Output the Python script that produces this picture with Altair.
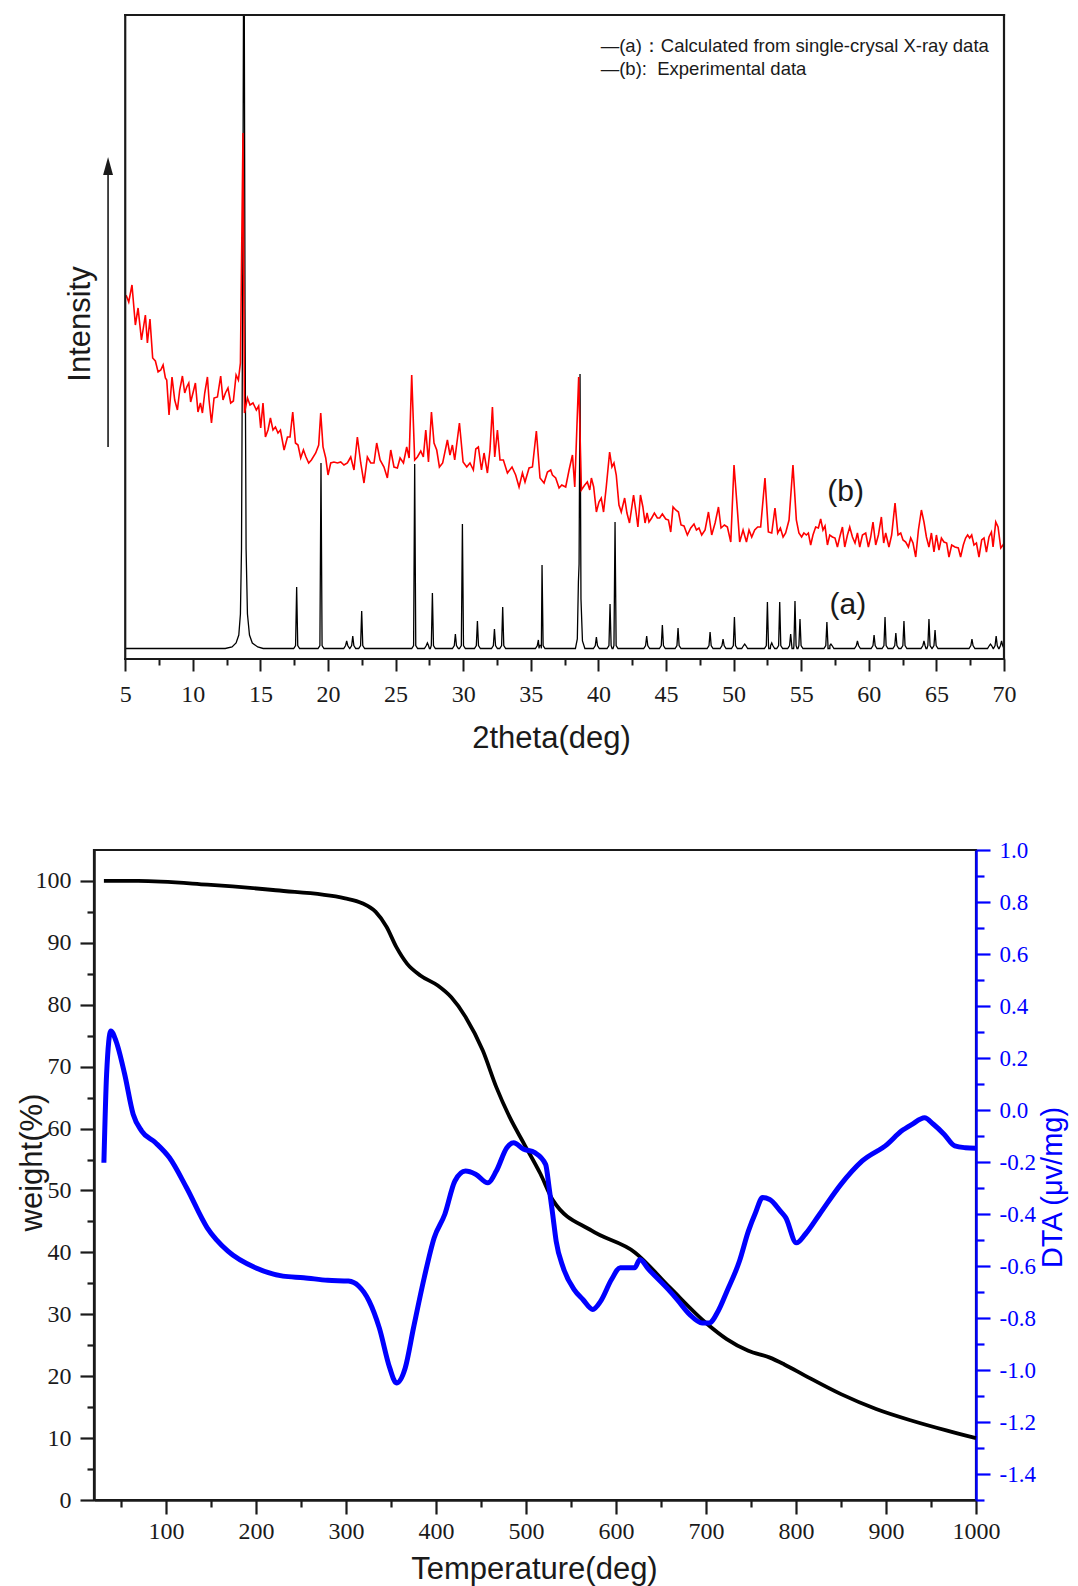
import altair as alt
import pandas as pd

# ===================== top panel : powder XRD =====================
calc_base = 10.5
# main reflection near 13.8 deg (runs off the top of the frame)
calc_main_x = [12.4, 12.9, 13.2, 13.4, 13.52, 13.6, 13.68, 13.78, 13.86, 13.94, 14.04, 14.19, 14.4, 14.8, 15.2]
calc_main_y = [10.5, 12, 16, 24, 45, 110, 350, 800, 350, 110, 45, 24, 16, 12, 10.5]
# reflection near 38.6 deg with its shoulder
calc_shoulder_x = [38.3, 38.44, 38.52, 38.57, 38.64, 38.71, 38.82, 39.0]
calc_shoulder_y = [10.5, 20, 77, 95, 285, 60, 18, 10.5]
calc_peak_pos = [17.68, 19.48, 21.38, 21.83, 22.49, 26.41, 27.35, 27.72, 29.42, 29.94,
                 31.05, 32.31, 32.92, 35.56, 35.83, 39.85, 40.86, 41.23, 43.57, 44.73,
                 45.89, 48.26, 49.22, 50.06, 50.82, 52.5, 52.82, 53.41, 54.22, 54.54,
                 54.91, 56.9, 57.2, 59.16, 60.39, 61.2, 62.0, 62.6, 64.08, 64.45,
                 64.9, 67.63, 69.0, 69.42, 69.82]
calc_peak_h = [72, 196, 18, 23, 48, 195, 16, 66, 25, 135,
               38, 30, 52, 19, 94, 22, 55, 137, 23, 34,
               31, 27, 20, 42, 15, 57, 16, 57, 25, 58,
               40, 37, 15, 18, 24, 42, 26, 38, 18, 40,
               29, 20, 15, 23, 18]

exp_x = [5.0, 5.09, 5.26, 5.5, 5.75, 5.95, 6.2, 6.49, 6.64, 6.83, 7.03, 7.23, 7.43, 7.63, 7.8, 7.97, 8.07, 8.24,
         8.46, 8.66, 8.86, 9.03, 9.23, 9.4, 9.55, 9.7, 9.84, 10.01, 10.19, 10.38, 10.56, 10.71, 10.88, 11.08,
         11.2, 11.38, 11.57, 11.82, 12.06, 12.23, 12.41, 12.6, 12.8, 13.0, 13.2, 13.37, 13.52, 13.71, 13.82,
         14.04, 14.23, 14.45, 14.7, 14.87, 15.02, 15.19, 15.37, 15.56, 15.74, 15.93, 16.11, 16.3, 16.48, 16.75,
         17.0, 17.19, 17.39, 17.59, 17.78, 17.98, 18.18, 18.37, 18.57, 18.77, 19.09, 19.31, 19.46, 19.63,
         19.83, 20.0, 20.2, 20.44, 20.7, 20.94, 21.18, 21.43, 21.68, 21.92, 22.17, 22.42, 22.66, 22.91,
         23.16, 23.4, 23.6, 23.85, 24.14, 24.39, 24.64, 24.88, 25.13, 25.33, 25.58, 25.82, 26.0, 26.19,
         26.41, 26.61, 26.86, 27.05, 27.23, 27.43, 27.65, 27.84, 28.04, 28.24, 28.48, 28.83, 29.02, 29.2,
         29.37, 29.72, 29.99, 30.26, 30.5, 30.75, 30.93, 31.12, 31.35, 31.54, 31.79, 31.98, 32.16, 32.33,
         32.53, 32.72, 32.97, 33.27, 33.61, 33.88, 34.13, 34.38, 34.57, 34.87, 35.12, 35.41, 35.68, 35.98,
         36.23, 36.47, 36.6, 36.84, 37.09, 37.29, 37.58, 37.83, 38.08, 38.25, 38.54, 38.74, 38.99, 39.18,
         39.36, 39.48, 39.65, 39.85, 40.04, 40.21, 40.38, 40.58, 40.83, 41.0, 41.15, 41.32, 41.52, 41.69,
         41.94, 42.11, 42.3, 42.6, 42.79, 42.92, 43.11, 43.29, 43.45, 43.6, 43.74, 43.94, 44.14, 44.36,
         44.53, 44.73, 44.98, 45.18, 45.35, 45.52, 45.72, 45.92, 46.11, 46.33, 46.58, 46.83, 47.07, 47.25,
         47.44, 47.64, 47.89, 48.14, 48.38, 48.63, 48.88, 49.07, 49.32, 49.54, 49.79, 50.03, 50.28, 50.45,
         50.7, 50.95, 51.14, 51.34, 51.56, 51.78, 52.0, 52.32, 52.57, 52.82, 53.06, 53.26, 53.46, 53.66,
         53.85, 54.1, 54.39, 54.64, 54.83, 55.03, 55.2, 55.38, 55.53, 55.7, 55.87, 56.07, 56.27, 56.44,
         56.61, 56.76, 56.94, 57.11, 57.31, 57.5, 57.68, 57.85, 58.05, 58.22, 58.42, 58.59, 58.79, 58.98,
         59.16, 59.33, 59.53, 59.77, 59.97, 60.14, 60.31, 60.51, 60.71, 60.93, 61.1, 61.25, 61.49, 61.69,
         61.94, 62.16, 62.36, 62.53, 62.73, 62.93, 63.1, 63.27, 63.47, 63.67, 63.89, 64.08, 64.26, 64.45,
         64.63, 64.82, 65.0, 65.19, 65.37, 65.56, 65.76, 65.93, 66.13, 66.37, 66.62, 66.79, 66.99, 67.16,
         67.31, 67.46, 67.61, 67.78, 67.96, 68.15, 68.35, 68.52, 68.7, 68.89, 69.07, 69.19, 69.39, 69.56,
         69.76, 69.93, 70.0]
exp_y = [362, 363, 357, 374, 334, 351, 319, 344, 316, 340, 301, 298, 287, 289, 294, 281, 279, 244,
         282, 259, 249, 269, 283, 266, 272, 276, 257, 266, 276, 247, 256, 246, 266, 282,
         259, 236, 261, 262, 283, 259, 266, 271, 256, 258, 284, 279, 296, 526, 246,
         261, 254, 256, 249, 253, 231, 256, 222, 229, 241, 229, 232, 226, 229, 209,
         222, 222, 247, 216, 214, 201, 209, 202, 196, 199, 206, 214, 246, 212,
         201, 184, 196, 197, 196, 197, 194, 196, 202, 189, 222, 196, 176, 202,
         196, 196, 216, 199, 192, 181, 209, 192, 191, 201, 196, 212, 201, 284,
         199, 202, 208, 202, 229, 197, 247, 216, 209, 192, 196, 219, 204, 214,
         199, 236, 197, 192, 196, 189, 210, 212, 189, 206, 186, 209, 252, 202,
         229, 199, 199, 186, 192, 184, 172, 186, 177, 191, 192, 228, 181, 176,
         187, 189, 184, 181, 171, 174, 172, 189, 204, 172, 282, 169, 174, 177,
         169, 181, 172, 147, 157, 161, 147, 172, 207, 192, 196, 184, 154, 147,
         161, 146, 136, 164, 146, 132, 164, 152, 136, 146, 137, 141, 146, 141,
         141, 145, 140, 139, 127, 152, 149, 147, 134, 133, 124, 131, 135, 129,
         131, 124, 129, 147, 124, 136, 152, 131, 134, 132, 117, 194, 149, 117,
         129, 117, 129, 122, 129, 132, 132, 181, 127, 126, 151, 126, 131, 122,
         126, 139, 194, 139, 126, 122, 126, 124, 126, 114, 124, 132, 131, 140,
         129, 133, 114, 124, 122, 121, 112, 122, 132, 112, 124, 132, 122, 116,
         126, 112, 124, 126, 112, 122, 137, 114, 124, 142, 116, 126, 112, 124,
         156, 124, 126, 119, 117, 112, 121, 116, 102, 129, 149, 137, 122, 112,
         126, 107, 124, 109, 121, 117, 116, 102, 114, 112, 111, 102, 114, 121,
         124, 121, 124, 114, 116, 102, 119, 121, 107, 122, 127, 112, 137, 132,
         111, 114, 116]

xrd_ticks = [5, 7.5, 10, 12.5, 15, 17.5, 20, 22.5, 25, 27.5, 30, 32.5, 35, 37.5, 40, 42.5,
             45, 47.5, 50, 52.5, 55, 57.5, 60, 62.5, 65, 67.5, 70]
legend_text = ["\u2014(a)\uff1aCalculated from single-crysal X-ray data", "\u2014(b):\u00a0 Experimental data"]
curve_names = ["(b)", "(a)"]

# ===================== bottom panel : TGA / DTA =====================
tga_T = [31, 69, 146, 222, 299, 318, 333, 345, 356, 368, 383, 402, 417, 433, 452, 467, 482, 498, 516,
         530, 573, 621, 660, 700, 723, 747, 771, 787, 810, 850, 889, 929, 968, 1000]
tga_W = [100.0, 100.0, 99.4, 98.5, 97.2, 96.4, 95.0, 92.6, 89.3, 86.6, 84.7, 83.1, 81.2, 78.0, 72.6,
         66.7, 61.8, 57.5, 52.7, 48.4, 43.5, 40.0, 34.3, 28.6, 26.0, 24.1, 23.0, 21.9, 20.1, 17.1,
         14.7, 12.8, 11.2, 10.0]
dta_T = [31, 34, 38.7, 44.4, 54, 63.5, 73, 88.4, 103.7, 123, 145.8, 168.8, 199.4, 230, 253, 279.7,
         302.7, 314, 325.7, 337, 348.6, 356, 365.8, 375, 386.9, 398, 409.8, 421, 432.8, 444, 457.6,
         467, 478.7, 486.3, 497, 509.8, 521.8, 525.7, 529.6, 533.5, 541.4, 553.3, 563.2, 574.2, 583,
         595, 604.7, 620.6, 626.5, 636.3, 658, 668, 681.8, 695.7, 703.6, 713.4, 723.3, 737.2, 747.1,
         755, 762.9, 770.8, 782.7, 788.6, 800.4, 810.3, 826.2, 849.9, 873.6, 901.3, 917.1, 929,
         942.8, 952.7, 964.5, 976.4, 988.2, 1000]
dta_D = [-0.203, 0.138, 0.304, 0.266, 0.139, -0.016, -0.081, -0.126, -0.183, -0.30, -0.453, -0.543,
         -0.607, -0.639, -0.645, -0.655, -0.658, -0.677, -0.735, -0.838, -0.992, -1.05, -0.992, -0.838,
         -0.645, -0.491, -0.401, -0.273, -0.235, -0.247, -0.28, -0.235, -0.145, -0.126, -0.15, -0.164,
         -0.209, -0.299, -0.40, -0.504, -0.607, -0.69, -0.729, -0.767, -0.735, -0.652, -0.607, -0.607,
         -0.575, -0.613, -0.69, -0.729, -0.786, -0.819, -0.819, -0.774, -0.697, -0.581, -0.466, -0.395,
         -0.337, -0.344, -0.389, -0.414, -0.511, -0.478, -0.401, -0.286, -0.196, -0.132, -0.081, -0.055,
         -0.03, -0.055, -0.093, -0.138, -0.145, -0.147]
temp_ticks = [50, 100, 150, 200, 250, 300, 350, 400, 450, 500, 550, 600, 650, 700, 750, 800, 850,
              900, 950, 1000]
weight_ticks = [0, 5, 10, 15, 20, 25, 30, 35, 40, 45, 50, 55, 60, 65, 70, 75, 80, 85, 90, 95, 100]
dta_ticks = [-1.5, -1.4, -1.3, -1.2, -1.1, -1.0, -0.9, -0.8, -0.7, -0.6, -0.5, -0.4, -0.3, -0.2,
             -0.1, 0.0, 0.1, 0.2, 0.3, 0.4, 0.5, 0.6, 0.7, 0.8, 0.9, 1.0]

assert len(calc_peak_pos) == len(calc_peak_h)
assert len(exp_x) == len(exp_y)
assert len(tga_T) == len(tga_W)
assert len(dta_T) == len(dta_D)

# ---------------- build tables ----------------
pts = list(zip(calc_main_x, calc_main_y)) + list(zip(calc_shoulder_x, calc_shoulder_y))
pts += [(5.0, calc_base), (70.0, calc_base)]
for p, h in zip(calc_peak_pos, calc_peak_h):
    pts += [(p - 0.22, calc_base), (p - 0.08, calc_base + 3), (p, h),
            (p + 0.08, calc_base + 3), (p + 0.22, calc_base)]
pts.sort()
df_calc = pd.DataFrame(pts, columns=["x", "y"])
df_exp = pd.DataFrame({"x": exp_x, "y": exp_y})
df_tga = pd.DataFrame({"T": tga_T, "W": tga_W})
df_dta = pd.DataFrame({"T": dta_T, "D": dta_D})

INK = "#1a1a1a"
SERIF = "Liberation Serif"
SANS = "Liberation Sans"
BLUE = "#0000ff"

# ---------------- top chart ----------------
# x range 5..70 drawn inside a frame; the view starts a little further left so that
# the XRD frame sits to the right of the TGA frame, as in the original figure
top_x_axis = alt.Axis(
    values=xrd_ticks, domain=False,
    labelExpr="datum.value % 5 === 0 ? format(datum.value, 'd') : ''",
    tickSize={"condition": {"test": "datum.value % 5 === 0", "value": 12}, "value": 6},
    tickWidth=2, tickColor=INK,
    labelFont=SERIF, labelFontSize=24, labelColor=INK, labelBaseline="alphabetic",
    labelPadding=30, labelOverlap=False, labelFlush=False,
    title="2theta(deg)", titleFont=SANS, titleFontSize=31, titleFontWeight="normal",
    titleColor=INK, titleX=457, titleY=88, titleBaseline="alphabetic", titleAlign="center",
    grid=False)
X = alt.X("x:Q", scale=alt.Scale(domain=[2.69, 70], nice=False, zero=False), axis=top_x_axis)
Y = alt.Y("y:Q", scale=alt.Scale(domain=[0, 644], nice=False, zero=False), axis=None)

frame = alt.Chart(pd.DataFrame({"x": [5, 70, 5, 5], "x2": [5, 70, 70, 70],
                                "y": [0, 0, 644, 0], "y2": [644, 644, 644, 0]})).mark_rule(
    color=INK, strokeWidth=2.2, strokeCap="square").encode(x=X, x2="x2:Q", y=Y, y2="y2:Q")
calc_line = alt.Chart(df_calc).mark_line(color="#000000", strokeWidth=1.3, clip=True).encode(x=X, y=Y)
exp_line = alt.Chart(df_exp).mark_line(color="#ff0000", strokeWidth=1.6, clip=True).encode(x=X, y=Y)
legend = alt.Chart(pd.DataFrame({"x": [40.17, 40.17], "y": [613, 590], "t": legend_text})).mark_text(
    align="left", baseline="middle", font=SANS, fontSize=18.5, color=INK).encode(x=X, y=Y, text="t:N")
curve_lab = alt.Chart(pd.DataFrame({"x": [58.28, 58.45], "y": [167, 54], "t": curve_names})).mark_text(
    align="center", baseline="middle", font=SANS, fontSize=30, color=INK).encode(x=X, y=Y, text="t:N")
intensity = alt.Chart(pd.DataFrame({"x": [1.71], "y": [335], "t": ["Intensity"]})).mark_text(
    angle=270, align="center", baseline="middle", font=SANS, fontSize=31, color=INK).encode(
    x=X, y=Y, text="t:N")
arrow_shaft = alt.Chart(pd.DataFrame({"x": [3.73], "y": [212], "y2": [486]})).mark_rule(
    color=INK, strokeWidth=1.6).encode(x=X, y=Y, y2="y2:Q")
arrow_head = alt.Chart(pd.DataFrame({"x": [3.73], "y": [493]})).mark_point(
    shape="M0,-1L0.55,1L-0.55,1Z", filled=True, size=324, color=INK, opacity=1).encode(x=X, y=Y)
anchor_top = alt.Chart(pd.DataFrame({"x": [40, 40], "y": [647, -101]})).mark_point(
    filled=True, size=4, opacity=0).encode(x=X, y=Y)

top = alt.layer(calc_line, exp_line, frame, legend, curve_lab, intensity, arrow_shaft, arrow_head,
                anchor_top).properties(width=910, height=644,
                                       view=alt.ViewBackground(strokeOpacity=0))

# ---------------- bottom chart ----------------
temp_axis = alt.Axis(
    values=temp_ticks,
    labelExpr="datum.value % 100 === 0 ? format(datum.value, 'd') : ''",
    tickSize={"condition": {"test": "datum.value % 100 === 0", "value": 14}, "value": 7},
    tickWidth=2.2, tickColor=INK, domainColor=INK, domainWidth=2.5,
    labelFont=SERIF, labelFontSize=24, labelColor=INK, labelBaseline="alphabetic",
    labelPadding=24, labelOverlap=False, labelFlush=False,
    title="Temperature(deg)", titleFont=SANS, titleFontSize=31, titleFontWeight="normal",
    titleColor=INK, titleX=440, titleY=78, titleBaseline="alphabetic", titleAlign="center",
    grid=False)
weight_axis = alt.Axis(
    values=weight_ticks,
    labelExpr="datum.value % 10 === 0 ? format(datum.value, 'd') : ''",
    tickSize={"condition": {"test": "datum.value % 10 === 0", "value": 14}, "value": 7},
    tickWidth=2.2, tickColor=INK, domainColor=INK, domainWidth=2.5,
    labelFont=SERIF, labelFontSize=24, labelColor=INK, labelPadding=9,
    labelOverlap=False, labelFlush=False,
    title="weight(%)", titleFont=SANS, titleFontSize=31, titleFontWeight="normal",
    titleColor=INK, titleAngle=270, titleX=-62, titleY=312, titleBaseline="middle",
    titleAlign="center", grid=False)
dta_axis = alt.Axis(
    orient="right", values=dta_ticks,
    labelExpr="abs(round(datum.value * 10)) % 2 === 0 ? (datum.value < -0.001 ? '-' : '') + format(abs(datum.value), '.1f') : ''",
    tickSize={"condition": {"test": "abs(round(datum.value * 10)) % 2 === 0", "value": 14}, "value": 8},
    tickWidth=2.2, tickColor=BLUE, domainColor=BLUE, domainWidth=2.5,
    labelFont=SERIF, labelFontSize=23, labelColor=BLUE, labelPadding=9,
    labelOverlap=False, labelFlush=False,
    title="DTA (\u03bcv/mg)", titleFont=SANS, titleFontSize=29, titleFontWeight="normal",
    titleColor=BLUE, titleAngle=270, titleX=76, titleY=337, titleBaseline="middle",
    titleAlign="center", grid=False)

XT = alt.X("T:Q", scale=alt.Scale(domain=[20, 1000], nice=False, zero=False), axis=temp_axis)
YW = alt.Y("W:Q", scale=alt.Scale(domain=[0, 105], nice=False, zero=False), axis=weight_axis)
YD = alt.Y("D:Q", scale=alt.Scale(domain=[-1.5, 1.0], nice=False, zero=False), axis=dta_axis)

tga = alt.Chart(df_tga).mark_line(color="#000000", strokeWidth=3.8, interpolate="monotone").encode(x=XT, y=YW)
anchor_bot = alt.Chart(pd.DataFrame({"T": [500], "W": [109.8]})).mark_point(
    filled=True, size=4, opacity=0).encode(x=XT, y=YW)
dta = alt.Chart(df_dta).mark_line(color=BLUE, strokeWidth=5, interpolate="monotone").encode(x=XT, y=YD)

bottom = alt.layer(alt.layer(tga, anchor_bot), dta).resolve_scale(y="independent").properties(
    width=882, height=650, view=alt.ViewBackground(stroke=INK, strokeWidth=2.2))

chart = alt.vconcat(top, bottom, spacing=57).properties(
    padding={"left": 6, "top": 3, "right": 0, "bottom": 0},
)

chart.save("out.html", embed_options={"renderer": "svg", "actions": False})
